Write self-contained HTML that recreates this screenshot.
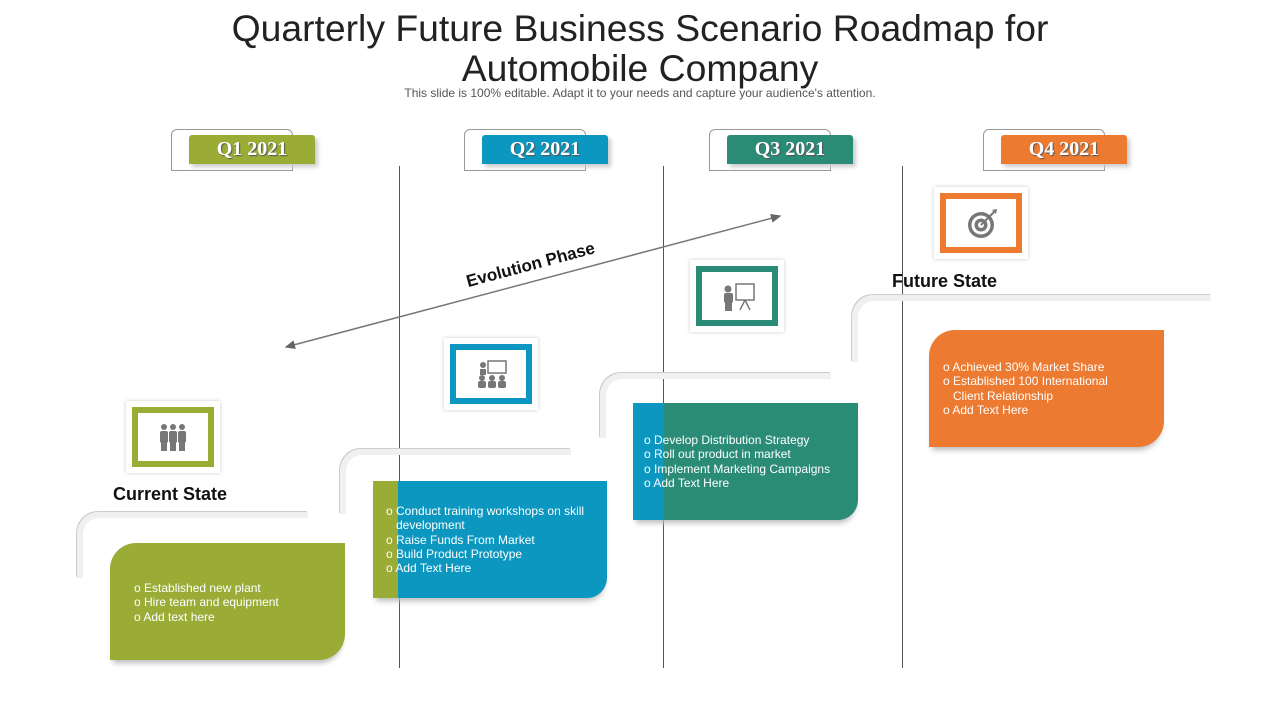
<!DOCTYPE html>
<html><head><meta charset="utf-8"><style>
body{margin:0;width:1280px;height:720px;background:#fff;position:relative;overflow:hidden;font-family:"Liberation Sans",sans-serif}
.a{position:absolute}
.t{left:0;width:1280px;text-align:center;color:#222;font-size:37.3px;line-height:40px}
.ol{position:absolute;border:1px solid #999;border-radius:6px 6px 0 0;width:120px;height:40px}
.tab{position:absolute;width:126px;height:29px;color:#fff;font-family:"Liberation Serif",serif;font-weight:bold;font-size:20px;line-height:29px;text-align:center;text-shadow:1px 1px 1px #555;box-shadow:3px 3px 4px #ccc;border-radius:3px 3px 0 0}
.vl{position:absolute;width:1px;background:#555;top:166px;height:502px}
.br{position:absolute;border-top:6px solid #f0f0f0;border-left:6px solid #f0f0f0;border-radius:22px 0 0 0;box-shadow:-1px -1px 0 #ccc}
.box{position:absolute;width:235px;height:117px;border-radius:26px 0 26px 0;color:#fff;font-size:12px;line-height:14.3px;box-shadow:0 6px 6px -3px #bbb}
.box div{position:absolute}
.ic{position:absolute;width:94px;height:72px;background:#fff;box-shadow:0 0 4px #ccc}
.ic>div{position:absolute;left:6px;top:6px;width:70px;height:48px;border:6px solid;background:#fff}
.ic svg{position:absolute;left:20px;top:9px}
.lab{position:absolute;font-weight:bold;font-size:18px;color:#111}
</style></head><body>
<div class="a t" style="top:8px">Quarterly Future Business Scenario Roadmap for<br>Automobile Company</div>
<div class="a" style="top:86px;left:0;width:1280px;text-align:center;font-size:12px;color:#555">This slide is 100% editable. Adapt it to your needs and capture your audience's attention.</div>

<div class="ol" style="left:171px;top:129px"></div><div class="tab" style="left:189px;top:135px;background:#9aac36">Q1 2021</div>
<div class="ol" style="left:464px;top:129px"></div><div class="tab" style="left:482px;top:135px;background:#0b97bf">Q2 2021</div>
<div class="ol" style="left:709px;top:129px"></div><div class="tab" style="left:727px;top:135px;background:#2a8c77">Q3 2021</div>
<div class="ol" style="left:983px;top:129px"></div><div class="tab" style="left:1001px;top:135px;background:#ec7a31">Q4 2021</div>

<div class="vl" style="left:399px"></div><div class="vl" style="left:663px"></div><div class="vl" style="left:902px"></div>

<svg class="a" style="left:0;top:0" width="1280" height="720">
<defs><marker id="m" markerWidth="8" markerHeight="8" refX="6" refY="3" orient="auto-start-reverse"><path d="M0,0 L7,3 L0,6z" fill="#666"/></marker></defs>
<line x1="286" y1="347" x2="780" y2="216" stroke="#777" stroke-width="1.5" marker-start="url(#m)" marker-end="url(#m)"/>
<text x="532" y="270" transform="rotate(-15 532 270)" text-anchor="middle" font-family="Liberation Sans" font-weight="bold" font-size="17" fill="#111">Evolution Phase</text>
</svg>

<div class="br" style="left:77px;top:512px;width:225px;height:60px"></div>
<div class="br" style="left:340px;top:449px;width:225px;height:59px"></div>
<div class="br" style="left:600px;top:373px;width:225px;height:59px"></div>
<div class="br" style="left:852px;top:295px;width:353px;height:61px"></div>

<div class="ic" style="left:126px;top:401px"><div style="border-color:#9aac36"><svg width="30" height="30" viewBox="0 0 30 30" fill="#777"><circle cx="6" cy="5" r="3"/><circle cx="15" cy="5" r="3"/><circle cx="24" cy="5" r="3"/><rect x="2" y="9" width="8" height="12" rx="2"/><rect x="11" y="9" width="8" height="12" rx="2"/><rect x="20" y="9" width="8" height="12" rx="2"/><rect x="3" y="20" width="6" height="9"/><rect x="12" y="20" width="6" height="9"/><rect x="21" y="20" width="6" height="9"/></svg></div></div>
<div class="ic" style="left:444px;top:338px"><div style="border-color:#0b97bf"><svg width="32" height="30" viewBox="0 0 32 30" fill="#777"><rect x="12" y="2" width="18" height="12" fill="none" stroke="#777" stroke-width="1.5"/><circle cx="7" cy="6" r="3"/><rect x="4" y="10" width="6" height="6"/><circle cx="6" cy="19" r="3"/><circle cx="16" cy="19" r="3"/><circle cx="26" cy="19" r="3"/><rect x="2" y="22" width="8" height="7" rx="2"/><rect x="12" y="22" width="8" height="7" rx="2"/><rect x="22" y="22" width="8" height="7" rx="2"/></svg></div></div>
<div class="ic" style="left:690px;top:260px"><div style="border-color:#2a8c77"><svg width="34" height="32" viewBox="0 0 34 32" fill="#777"><circle cx="6" cy="8" r="3.5"/><rect x="2" y="12" width="9" height="10" rx="2"/><rect x="3" y="21" width="7" height="9"/><rect x="14" y="3" width="18" height="16" fill="none" stroke="#777" stroke-width="1.5"/><line x1="23" y1="19" x2="18" y2="29" stroke="#777" stroke-width="1.5"/><line x1="23" y1="19" x2="28" y2="29" stroke="#777" stroke-width="1.5"/></svg></div></div>
<div class="ic" style="left:934px;top:187px"><div style="border-color:#ec7a31"><svg width="34" height="32" viewBox="0 0 34 32"><circle cx="15" cy="17" r="13" fill="#777"/><circle cx="15" cy="17" r="9.5" fill="#fff"/><circle cx="15" cy="17" r="6.5" fill="#777"/><circle cx="15" cy="17" r="3" fill="#fff"/><line x1="15" y1="17" x2="29" y2="3" stroke="#777" stroke-width="2"/><path d="M26,2 L31,1 L30,6z" fill="#777"/></svg></div></div>

<div class="lab" style="left:113px;top:484px">Current State</div>
<div class="lab" style="left:892px;top:271px">Future State</div>

<div class="box" style="left:110px;top:543px;background:#9aac36"><div style="left:24px;top:38px">o Established new plant<br>o Hire team and equipment<br>o Add text here</div></div>
<div class="box" style="left:373px;top:481px;width:234px;background:#0b97bf;border-radius:0 0 20px 0"><div style="left:0;top:0;width:25px;height:117px;background:#9aac36;position:absolute"></div><div style="left:13px;top:23px;width:215px">o Conduct training workshops on skill<br>&nbsp;&nbsp;&nbsp;development<br>o Raise Funds From Market<br>o Build Product Prototype<br>o Add Text Here</div></div>
<div class="box" style="left:633px;top:403px;width:225px;background:#2a8c77;border-radius:0 0 20px 0"><div style="left:0;top:0;width:31px;height:117px;background:#0b97bf;position:absolute"></div><div style="left:11px;top:30px">o Develop Distribution Strategy<br>o Roll out product in market<br>o Implement Marketing Campaigns<br>o Add Text Here</div></div>
<div class="box" style="left:929px;top:330px;background:#ec7a31"><div style="left:14px;top:30px">o Achieved 30% Market Share<br>o Established 100 International<br>&nbsp;&nbsp;&nbsp;Client Relationship<br>o Add Text Here</div></div>
</body></html>
